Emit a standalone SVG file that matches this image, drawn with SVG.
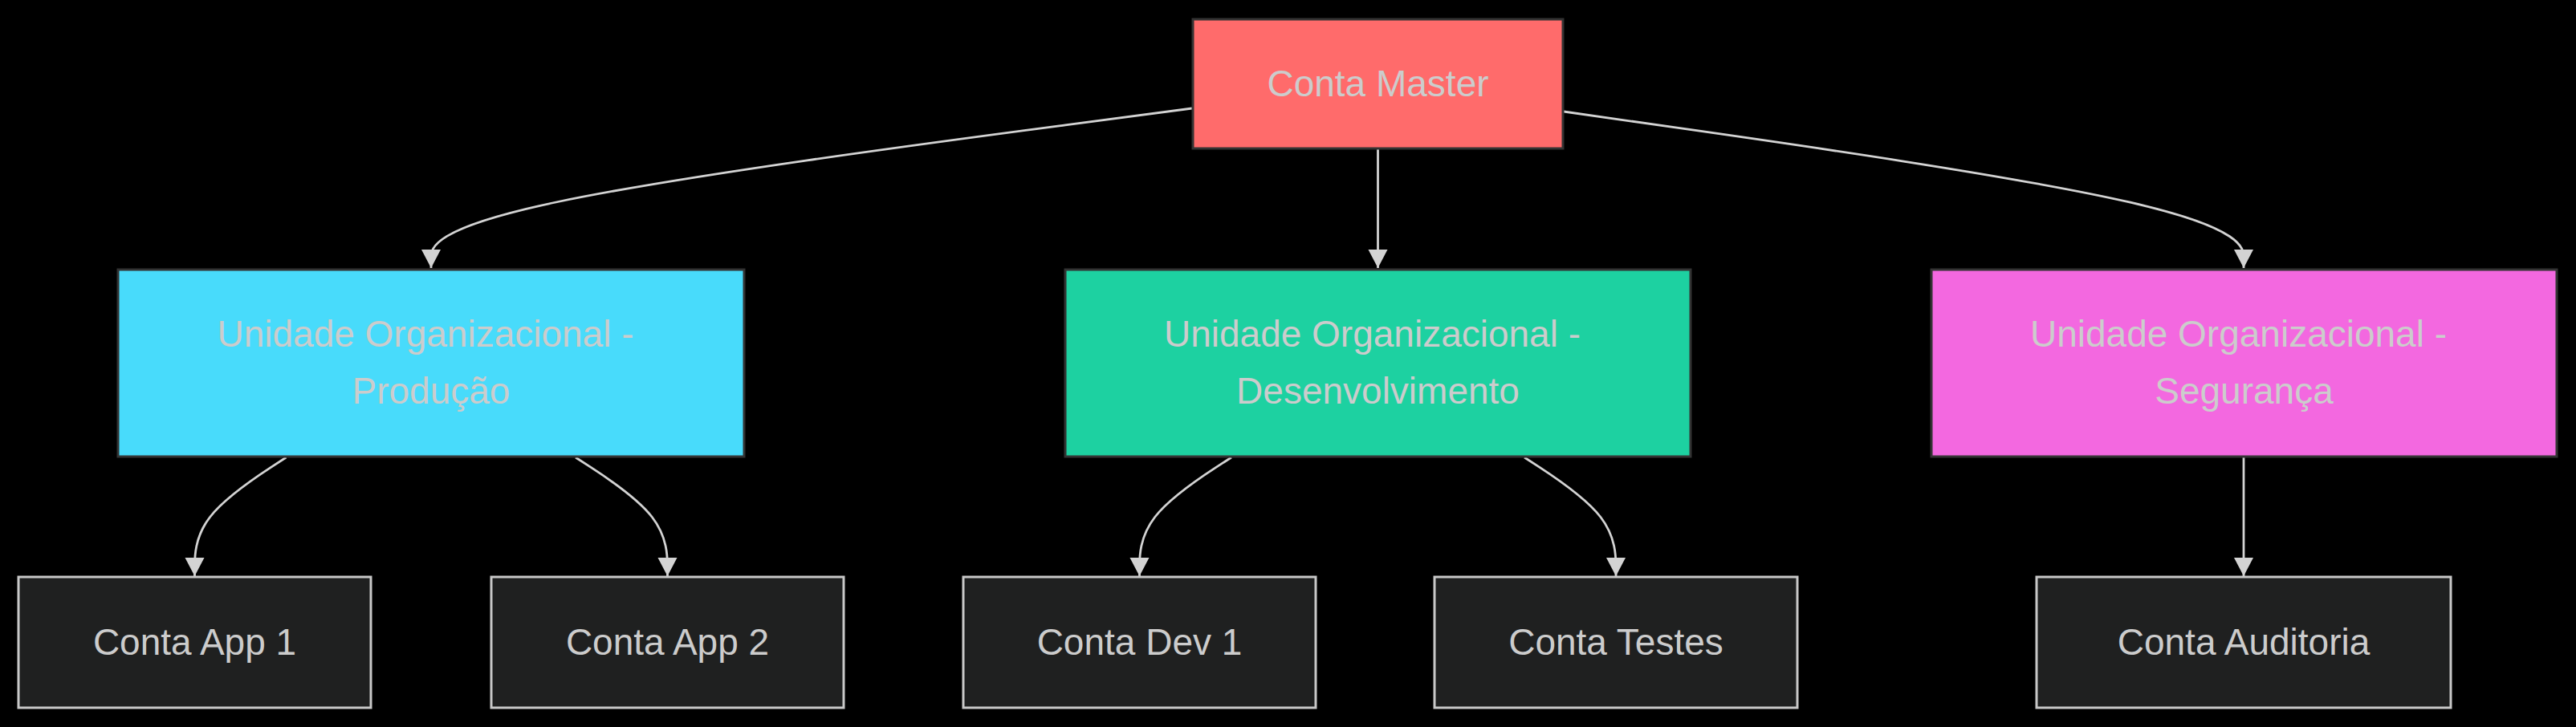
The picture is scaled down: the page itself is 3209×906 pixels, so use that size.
<svg xmlns="http://www.w3.org/2000/svg" width="3209" height="906" viewBox="0 0 3209 906">
<style>
.bg{fill:#000}
.n rect{stroke-width:3}
.col rect{stroke:#333333}
.acc rect{fill:#1f2020;stroke:#c8c8c8}
.t{font-family:"Liberation Sans",Arial,sans-serif;font-size:46px;fill:#cccccc;text-anchor:middle}
.e path{fill:none;stroke:#d3d3d3;stroke-width:2.8;marker-end:url(#arr)}
</style>
<defs>
<marker id="arr" markerUnits="userSpaceOnUse" markerWidth="26" markerHeight="26" refX="23" refY="12" orient="auto">
<path d="M0,0 L23,12 L0,24 z" fill="#d3d3d3"/>
</marker>
</defs>
<rect class="bg" x="0" y="0" width="3209" height="906"/>
<g id="edges" class="e">
<path d="M1485,135 L1327,155.8 C1169,176.7 853,218.3 695,251.5 C537,284.7 537,309.3 537,321.7 L537,334"/>
<path d="M1716.5,186 L1716.5,334"/>
<path d="M1948,139 L2089,159.2 C2230.3,179.3 2512.7,219.7 2653.8,252.2 C2795,284.7 2795,309.3 2795,321.7 L2795,334"/>
<path d="M356.5,570 L337.5,582.4 C318.5,594.8 280.5,619.7 261.5,644.5 C242.5,669.3 242.5,694.2 242.5,706.6 L242.5,718"/>
<path d="M717,570 L736.1,582.4 C755.2,594.8 793.3,619.7 812.4,644.5 C831.5,669.3 831.5,694.2 831.5,706.6 L831.5,718"/>
<path d="M1534,570 L1514.9,582.4 C1495.8,594.8 1457.7,619.7 1438.6,644.5 C1419.5,669.3 1419.5,694.2 1419.5,706.6 L1419.5,718"/>
<path d="M1899,570 L1918,582.4 C1937,594.8 1975,619.7 1994,644.5 C2013,669.3 2013,694.2 2013,706.6 L2013,718"/>
<path d="M2795,570 L2795,718"/>
</g>
<g id="master" class="n col">
<rect x="1486" y="24" width="461" height="161" fill="#ff6b6b"/>
<text class="t" x="1716.5" y="120">Conta Master</text>
</g>
<g id="ou-producao" class="n col">
<rect x="147" y="336" width="780" height="233" fill="#48dbfb"/>
<text class="t" x="530" y="432">Unidade Organizacional -</text>
<text class="t" x="537" y="503">Produção</text>
</g>
<g id="ou-desenvolvimento" class="n col">
<rect x="1327" y="336" width="779" height="233" fill="#1dd1a1"/>
<text class="t" x="1709.5" y="432">Unidade Organizacional -</text>
<text class="t" x="1716.5" y="503">Desenvolvimento</text>
</g>
<g id="ou-seguranca" class="n col">
<rect x="2406" y="336" width="779" height="233" fill="#f368e0"/>
<text class="t" x="2788.5" y="432">Unidade Organizacional -</text>
<text class="t" x="2795.5" y="503">Segurança</text>
</g>
<g id="app1" class="n acc">
<rect x="23" y="719" width="439" height="163"/>
<text class="t" x="242.5" y="816">Conta App 1</text>
</g>
<g id="app2" class="n acc">
<rect x="612" y="719" width="439" height="163"/>
<text class="t" x="831.5" y="816">Conta App 2</text>
</g>
<g id="dev1" class="n acc">
<rect x="1200" y="719" width="439" height="163"/>
<text class="t" x="1419.5" y="816">Conta Dev 1</text>
</g>
<g id="testes" class="n acc">
<rect x="1787" y="719" width="452" height="163"/>
<text class="t" x="2013" y="816">Conta Testes</text>
</g>
<g id="auditoria" class="n acc">
<rect x="2537" y="719" width="516" height="163"/>
<text class="t" x="2795" y="816">Conta Auditoria</text>
</g>
</svg>
